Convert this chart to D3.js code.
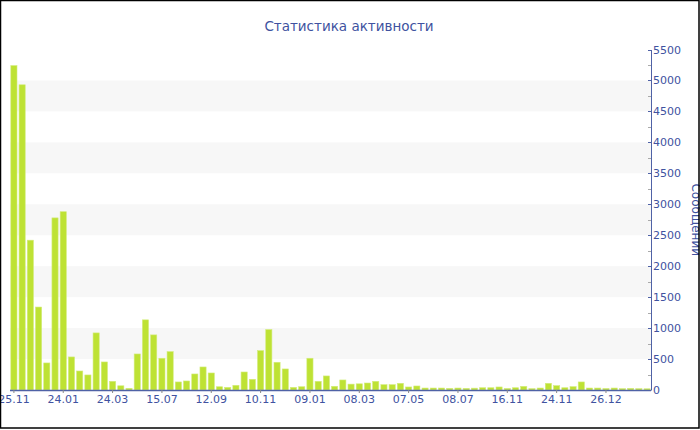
<!DOCTYPE html>
<html><head><meta charset="utf-8">
<script src="https://cdn.jsdelivr.net/npm/d3@7"></script>
<style>
html,body{margin:0;padding:0;background:#fff;}
svg{display:block;font-family:"DejaVu Sans",Verdana,sans-serif;}
</style></head>
<body><svg id="c" width="700" height="430"></svg>
<script>
const title = "Статистика активности";
const axisTitle = "Сообщений";
const tickLabels = ["25.11","24.01","24.03","15.07","12.09","10.11","09.01","08.03","07.05","08.07","16.11","24.11","26.12"];
const tickEvery = 6;
const values = [5240,4930,2420,1340,437,2780,2880,534,307,243,
  922,453,140,68,27,582,1133,890,513,620,
  130,146,259,372,275,53,43,76,291,173,
  636,976,448,340,43,53,513,140,227,60,
  162,95,100,113,140,86,86,108,49,65,
  32,32,32,27,32,27,30,37,37,49,
  25,37,59,22,32,108,70,37,54,130,
  32,32,25,32,22,27,22,20];
const yTicks = d3.range(0, 5501, 500);
const yMinor = d3.range(250, 5500, 500);
const bandStarts = [500,1500,2500,3500,4500];

(function () {
const svg = d3.select("#c");
const W = 700, H = 430;
const pL = 10, pR = 651, pT = 49.5, pB = 390;
const textCol = "#4052a0", axisCol = "#4f62a6";
const ff = '"DejaVu Sans",Verdana,sans-serif';

const categories = d3.range(values.length);
const x = d3.scaleBand().domain(categories).range([pL, pR]).paddingInner(0.25).paddingOuter(0.1);
const y = d3.scaleLinear().domain([0, 5500]).range([pB, pT]);

// bands
svg.append("g").selectAll("rect").data(bandStarts).join("rect")
  .attr("x", pL).attr("width", pR - pL)
  .attr("y", d => y(d + 500)).attr("height", d => y(d) - y(d + 500))
  .attr("fill", "#f7f7f7");

// bars
svg.append("g").selectAll("rect").data(values).join("rect")
  .attr("x", (d, i) => x(i)).attr("width", x.bandwidth())
  .attr("y", d => y(d)).attr("height", d => pB - y(d))
  .attr("fill", "#bee234").attr("stroke", "#d3ec7c").attr("stroke-width", 0.6);

// x axis
const xTickIdx = tickLabels.map((t, i) => i * tickEvery);
const xAxis = d3.axisBottom(x).tickValues(xTickIdx)
  .tickFormat((d, i) => tickLabels[i]).tickSize(3).tickSizeOuter(0);
const gx = svg.append("g").attr("transform", `translate(0,${pB})`).call(xAxis);
gx.select(".domain").attr("stroke", axisCol).attr("d", `M${pL},0.5H${pR}`).attr("stroke-width", 1.5);
gx.selectAll(".tick line").attr("stroke", "#888");
gx.selectAll(".tick text").attr("fill", textCol).attr("font-size", 11).attr("dy", "0.6em")
  .attr("font-family", ff);

// y axis right
const yAxis = d3.axisRight(y).tickValues(yTicks).tickFormat(d3.format("d"))
  .tickSize(0).tickPadding(2).tickSizeOuter(0);
const gy = svg.append("g").attr("transform", `translate(${pR},0)`).call(yAxis);
gy.select(".domain").attr("stroke", axisCol);
gy.selectAll(".tick text").attr("fill", textCol).attr("font-size", 11).attr("font-family", ff);
gy.append("g").selectAll("line").data(yTicks).join("line")
  .attr("x1", -3).attr("x2", 0).attr("y1", d => Math.round(y(d)) + 0.5).attr("y2", d => Math.round(y(d)) + 0.5)
  .attr("stroke", axisCol);
gy.append("g").selectAll("line").data(yMinor).join("line")
  .attr("x1", -3).attr("x2", 0).attr("y1", d => Math.round(y(d)) + 0.5).attr("y2", d => Math.round(y(d)) + 0.5)
  .attr("stroke", "#aaa");

// axis title
svg.append("text").attr("transform", `translate(692,${(pT + pB) / 2}) rotate(90)`)
  .attr("text-anchor", "middle").attr("fill", textCol).attr("font-size", 12).text(axisTitle);

// title
svg.append("text").attr("x", 349).attr("y", 31).attr("text-anchor", "middle")
  .attr("fill", textCol).attr("font-size", 13.5).text(title);

// border
svg.append("rect").attr("x", 0.5).attr("y", 0.5).attr("width", W - 1.5).attr("height", H - 2.5)
  .attr("fill", "none").attr("stroke", "#000").attr("stroke-width", 1.5);
})();
</script></body></html>
